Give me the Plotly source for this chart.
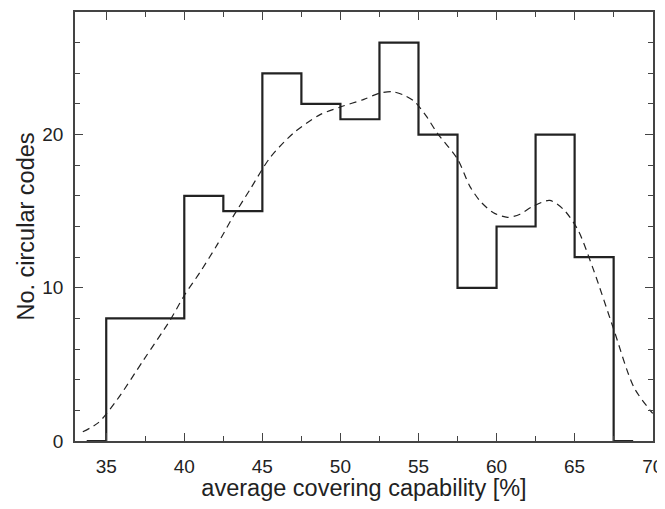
import plotly.graph_objects as go

# ── Data ───────────────────────────────────────────────────────
# histogram bin edges (2.5 wide) and counts, with empty bins at both ends
BIN_EDGES = [33.75, 35, 37.5, 40, 42.5, 45, 47.5, 50, 52.5, 55, 57.5, 60, 62.5, 65, 67.5, 68.75]
COUNTS = [0, 8, 8, 16, 15, 24, 22, 21, 26, 20, 10, 14, 20, 12, 0]

# smoothed density (dashed curve), scaled to counts
CURVE_X = [33.5, 34.5, 35.7, 37.4, 39.1, 40.0, 41.0, 42.1, 43.1, 44.2, 45.5, 47.0,
           48.7, 50.0, 51.5, 52.5, 53.3, 54.0, 54.7, 55.5, 56.2, 57.5, 58.3, 59.0,
           59.8, 60.7, 61.5, 62.3, 63.4, 64.3, 65.2, 66.2, 67.5, 68.8, 70.0]
CURVE_Y = [0.6, 1.2, 2.7, 5.3, 7.9, 9.5, 11.0, 12.8, 14.6, 16.4, 18.5, 20.1,
           21.3, 21.8, 22.3, 22.7, 22.8, 22.6, 22.2, 21.2, 20.1, 18.4, 16.6, 15.6,
           14.9, 14.6, 14.8, 15.3, 15.7, 15.1, 13.8, 11.2, 7.3, 3.5, 1.8]

X_TICKS = [35, 40, 45, 50, 55, 60, 65, 70]
Y_TICKS = [0, 10, 20]

AXIS = "#444444"
INK = "#222222"
FONT = "Liberation Sans, Arial, sans-serif"

# step outline: repeat each count over its bin
step_x, step_y = [], []
for i, c in enumerate(COUNTS):
    step_x += [BIN_EDGES[i], BIN_EDGES[i + 1]]
    step_y += [c, c]

fig = go.Figure()

fig.add_trace(go.Scatter(
    x=CURVE_X, y=CURVE_Y,
    mode="lines",
    line=dict(color=INK, width=1.2, dash="7px,5px", shape="spline", smoothing=0.8),
    showlegend=False,
))

fig.add_trace(go.Scatter(
    x=step_x, y=step_y,
    mode="lines",
    line=dict(color=INK, width=2.2),
    showlegend=False,
))

# page body has an 8px margin, so the figure is sized to sit inside the window
fig.update_layout(
    width=649, height=493,
    plot_bgcolor="white", paper_bgcolor="white",
    font=dict(family=FONT, color="#222222"),
    margin=dict(l=67, r=4, t=4, b=60, autoexpand=False),
    xaxis=dict(
        range=[33, 70.02],
        tickvals=X_TICKS,
        automargin=False,
        ticks="inside", ticklen=8, tickwidth=1.3, tickcolor=AXIS,
        minor=dict(dtick=2.5, tick0=0, ticks="inside", ticklen=5, tickwidth=1.3, tickcolor=AXIS),
        showline=True, linecolor=AXIS, linewidth=1.5, mirror="ticks",
        showgrid=False, zeroline=False,
        tickfont=dict(size=19),
        ticklabelstandoff=7,
        ticklabeloverflow="allow",
        title=dict(text="average covering capability [%]", font=dict(size=23.5), standoff=16),
    ),
    yaxis=dict(
        range=[0, 28],
        tickvals=Y_TICKS,
        automargin=False,
        ticks="inside", ticklen=8, tickwidth=1.3, tickcolor=AXIS,
        minor=dict(dtick=2, tick0=0, ticks="inside", ticklen=5, tickwidth=1.3, tickcolor=AXIS),
        showline=True, linecolor=AXIS, linewidth=1.5, mirror="ticks",
        showgrid=False, zeroline=False,
        tickfont=dict(size=19),
        ticklabelstandoff=6,
        title=dict(text="No. circular codes", font=dict(size=23.5), standoff=1),
    ),
)

fig.write_html("out.html")
